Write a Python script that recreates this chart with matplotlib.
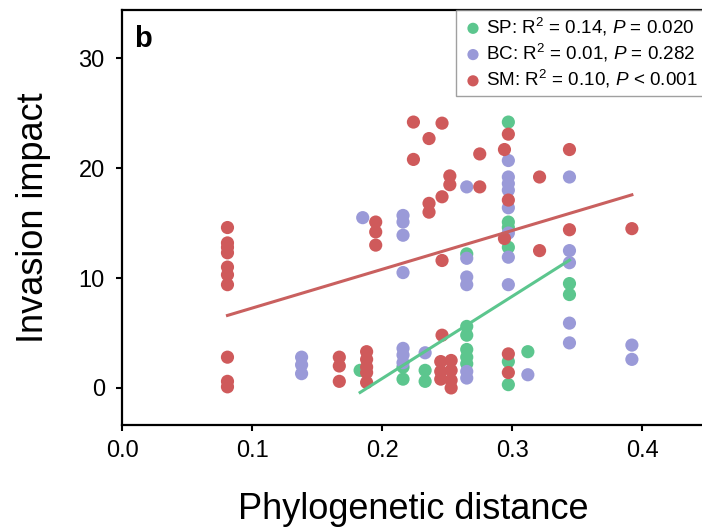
import numpy as np
import matplotlib.pyplot as plt

plt.rcParams['font.family'] = ['Liberation Sans', 'DejaVu Sans']
plt.rcParams['mathtext.fontset'] = 'custom'
plt.rcParams['mathtext.rm'] = 'Liberation Sans'
plt.rcParams['mathtext.it'] = 'Liberation Sans:italic'

# SP (green)
sp_x = [0.183, 0.216, 0.216, 0.233, 0.233,
        0.265, 0.265, 0.265, 0.265, 0.265, 0.265,
        0.297, 0.297, 0.297, 0.297, 0.297, 0.297,
        0.312, 0.344, 0.344]
sp_y = [1.6, 1.9, 0.8, 1.6, 0.6,
        12.2, 5.6, 4.8, 3.5, 2.8, 2.2,
        24.2, 15.1, 14.6, 12.8, 2.4, 0.3,
        3.3, 9.5, 8.5]

# BC (purple)
bc_x = [0.138, 0.138, 0.138, 0.185, 0.216, 0.216, 0.216, 0.216, 0.216, 0.216, 0.216,
        0.233, 0.265, 0.265, 0.265, 0.265, 0.265, 0.265,
        0.297, 0.297, 0.297, 0.297, 0.297, 0.297, 0.297, 0.297,
        0.312, 0.344, 0.344, 0.344, 0.344, 0.344, 0.392, 0.392]
bc_y = [2.8, 2.1, 1.3, 15.5, 15.7, 15.1, 13.9, 10.5, 3.6, 3.0, 2.3,
        3.2, 18.3, 11.8, 10.1, 9.4, 1.5, 0.9,
        20.7, 19.2, 18.6, 18.0, 16.4, 14.1, 11.9, 9.4,
        1.2, 19.2, 12.5, 11.4, 5.9, 4.1, 3.9, 2.6]

# SM (red)
sm_x = [0.081] * 10 + [0.167] * 3 + [0.188] * 5 + [0.195] * 3 + \
       [0.224, 0.224, 0.236, 0.236, 0.236, 0.246, 0.246, 0.246, 0.246,
        0.245, 0.245, 0.245, 0.253, 0.253, 0.253, 0.253, 0.252, 0.252,
        0.275, 0.275, 0.297, 0.294, 0.297, 0.294, 0.297, 0.297,
        0.321, 0.321, 0.344, 0.344, 0.392]
sm_y = [14.6, 13.2, 12.8, 12.3, 11.0, 10.3, 9.4, 2.8, 0.6, 0.1,
        2.8, 2.0, 0.6,
        3.3, 2.6, 1.9, 1.4, 0.5,
        15.1, 14.2, 13.0,
        24.2, 20.8, 22.7, 16.8, 16.0, 24.1, 17.4, 11.6, 4.8,
        2.4, 1.5, 0.8, 2.5, 1.6, 0.7, 0.0, 19.3, 18.5,
        21.3, 18.3, 23.1, 21.7, 17.1, 13.6, 3.1, 1.4,
        19.2, 12.5, 21.7, 14.4, 14.5]

# regression lines (intercept, slope)
sp_fit = (-14.1, 74.8)
sm_fit = (3.74, 35.3)

labels = [r'SP: R$^2$ = 0.14, $P$ = 0.020',
          r'BC: R$^2$ = 0.01, $P$ = 0.282',
          r'SM: R$^2$ = 0.10, $P$ < 0.001']
green = '#5cc68e'
purple = '#9a9ad8'
red = '#cf5a5b'

fig = plt.figure(figsize=(7.02, 5.27), dpi=100)
ax = fig.add_axes([0.174, 0.193, 0.828, 0.788])

ax.scatter(sp_x, sp_y, s=90, color=green, edgecolors='none', label=labels[0], zorder=2)
ax.scatter(bc_x, bc_y, s=90, color=purple, edgecolors='none', label=labels[1], zorder=2)
ax.scatter(sm_x, sm_y, s=90, color=red, edgecolors='none', label=labels[2], zorder=2)

xs = np.array([min(sp_x), max(sp_x)])
ax.plot(xs, sp_fit[0] + sp_fit[1] * xs, color=green, lw=2.2, zorder=3)
xs = np.array([min(sm_x), max(sm_x)])
ax.plot(xs, sm_fit[0] + sm_fit[1] * xs, color='#c9605f', lw=2.2, zorder=3)

ax.set_xlim(0, 0.447)
ax.set_ylim(-3.4, 34.4)
ax.set_xticks([0.0, 0.1, 0.2, 0.3, 0.4])
ax.set_xticklabels(['0.0', '0.1', '0.2', '0.3', '0.4'])
ax.set_yticks([0, 10, 20, 30])
ax.tick_params(labelsize=17, width=1.5, length=4.5)
ax.tick_params(axis='x', pad=6)
ax.tick_params(axis='y', pad=8)
for sp in ax.spines.values():
    sp.set_linewidth(1.6)

ax.set_xlabel('Phylogenetic distance', fontsize=26, labelpad=22)
ax.set_ylabel('Invasion impact', fontsize=26, labelpad=20)

ax.text(0.02, 0.965, 'b', transform=ax.transAxes, fontsize=21, fontweight='bold',
        va='top', ha='left')

leg = ax.legend(loc='upper right', fontsize=13.6, frameon=True, fancybox=False,
                borderaxespad=0.0, handletextpad=0.1, handlelength=1.2,
                labelspacing=0.22, borderpad=0.3, markerscale=0.85)
leg.get_frame().set_edgecolor('#888888')
leg.get_frame().set_linewidth(1.0)

fig.savefig('out.png', dpi=100)
